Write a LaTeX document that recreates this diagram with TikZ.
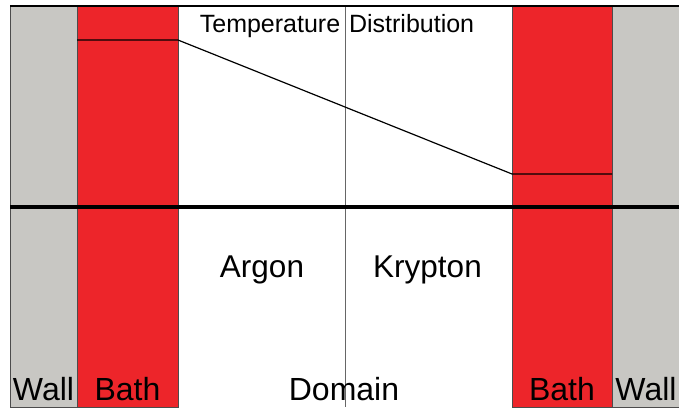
\documentclass[tikz,border=0pt]{standalone}
\usepackage{fontspec}
\setmainfont{Liberation Sans}
\usetikzlibrary{positioning}

\definecolor{wallgray}{RGB}{200,199,195}
\definecolor{bathred}{RGB}{237,37,42}

\begin{document}
\begin{tikzpicture}[x=1pt,y=-1pt]
        \tikzstyle{wall}=[fill=wallgray,draw=black!70,line width=0.8pt]
        \tikzstyle{bath}=[wall, fill=bathred];
        \tikzstyle{annot}=[inner sep=0pt, anchor=base, font=\fontsize{32}{32}\selectfont]
        \tikzstyle{title}=[annot, font=\fontsize{25}{25}\selectfont]
        \tikzstyle{gas}=[annot, font=\fontsize{31.5}{31.5}\selectfont]

        \useasboundingbox (0,0) rectangle (679,407);

        % Walls
        \path[wall] (10,6) rectangle (77,407);
        \path[wall] (612,6) rectangle (679,407);

        % Baths
        \path[bath] (77,6) rectangle (178,407);
        \path[bath] (512,6) rectangle (612,407);

        % Interface and borders
        \coordinate (mid-top) at (345,6);
        \coordinate (mid-bot) at (345,407);
        \draw[black!60, line width=0.8pt] (mid-top) -- (mid-bot);
        \draw[line width=1.2pt] (10,6) -- (679,6);
        \draw[line width=4pt] (10,207) -- (679,207);

        % Temperature profile
        \coordinate (T-1) at (77,40);
        \coordinate (T-2) at (178,40);
        \coordinate (T-3) at (512,174);
        \coordinate (T-4) at (612,174);
        \draw[line width=1.2pt] (T-1) -- (T-2) -- (T-3) -- (T-4);

        % Annotate
        \node[title] (temp) at (337,32) {Temperature\hspace{2pt} Distribution};
        \node[gas] (ar) at (262,277) {Argon};
        \node[gas] (kr) at (427.5,277) {Krypton};
        \node[annot] (wl) at (43.5,400) {Wall};
        \node[annot] (bl) at (127.5,400) {Bath};
        \node[annot] (dom) at (344,400) {Domain};
        \node[annot] (br) at (562,400) {Bath};
        \node[annot] (wr) at (646,400) {Wall};

\end{tikzpicture}
\end{document}
